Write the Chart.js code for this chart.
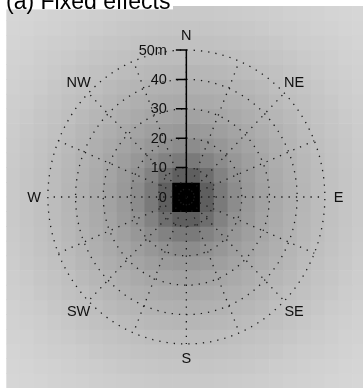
<!DOCTYPE html>
<html>
<head>
<meta charset="utf-8">
<script src="https://cdn.jsdelivr.net/npm/chart.js@4/dist/chart.umd.min.js"></script>
<style>
  html, body { margin: 0; padding: 0; background: #fff; overflow: hidden; }
  #wrap { width: 370px; height: 392px; }
  canvas { display: block; }
</style>
</head>
<body>
<div id="wrap"><canvas id="chart" width="370" height="392"></canvas></div>
<script>
// Cell centres (m) of the 5 m raster, west→east and north→south
const colCentres = [-62.5, -57.5, -52.5, -47.5, -42.5, -37.5, -32.5, -27.5, -22.5, -17.5, -12.5, -7.5, -2.5,
                    2.5, 7.5, 12.5, 17.5, 22.5, 27.5, 32.5, 37.5, 42.5, 47.5, 52.5, 57.5, 62.5];
const rowCentres = [62.5, 57.5, 52.5, 47.5, 42.5, 37.5, 32.5, 27.5, 22.5, 17.5, 12.5, 7.5, 2.5,
                    -2.5, -7.5, -12.5, -17.5, -22.5, -27.5, -32.5, -37.5, -42.5, -47.5, -52.5, -57.5, -62.5];
const cellSize = 5;

// Fixed-effect strength per cell (0 = none, 255 = full), rows north→south
const effect = [
  [41,42,43,45,46,47,49,50,51,52,53,54,54,54,54,53,52,51,50,49,47,46,45,43,42,41],
  [42,43,45,46,48,50,51,53,55,56,57,58,58,58,58,57,56,55,53,51,50,48,46,45,43,42],
  [43,45,47,49,50,52,55,57,58,60,61,62,62,62,62,61,60,58,57,55,52,50,49,47,45,43],
  [45,46,49,51,53,56,58,60,62,64,66,67,67,67,67,66,64,62,60,58,56,53,51,49,46,45],
  [46,48,50,53,56,59,62,64,67,69,71,72,73,73,72,71,69,67,64,62,59,56,53,50,48,46],
  [47,50,52,56,59,62,65,69,72,74,77,78,79,79,78,77,74,72,69,65,62,59,56,52,50,47],
  [49,51,55,58,62,65,69,73,77,80,82,84,85,85,84,82,80,77,73,69,65,62,58,55,51,49],
  [50,53,57,60,64,69,73,77,81,85,89,91,93,93,91,89,85,81,77,73,69,64,60,57,53,50],
  [51,55,58,62,67,72,77,81,86,91,96,100,102,102,100,96,91,86,81,77,72,67,62,58,55,51],
  [52,56,60,64,69,74,80,85,91,97,104,110,115,115,110,104,97,91,85,80,74,69,64,60,56,52],
  [53,57,61,66,71,77,82,89,96,104,115,125,133,133,125,115,104,96,89,82,77,71,66,61,57,53],
  [54,58,62,67,72,78,84,91,100,110,125,145,160,160,145,125,110,100,91,84,78,72,67,62,58,54],
  [54,58,62,67,73,79,85,93,102,115,133,160,255,255,160,133,115,102,93,85,79,73,67,62,58,54],
  [54,58,62,67,73,79,85,93,102,115,133,160,255,255,160,133,115,102,93,85,79,73,67,62,58,54],
  [54,58,62,67,72,78,84,91,100,110,125,145,160,160,145,125,110,100,91,84,78,72,67,62,58,54],
  [53,57,61,66,71,77,82,89,96,104,115,125,133,133,125,115,104,96,89,82,77,71,66,61,57,53],
  [52,56,60,64,69,74,80,85,91,97,104,110,115,115,110,104,97,91,85,80,74,69,64,60,56,52],
  [51,55,58,62,67,72,77,81,86,91,96,100,102,102,100,96,91,86,81,77,72,67,62,58,55,51],
  [50,53,57,60,64,69,73,77,81,85,89,91,93,93,91,89,85,81,77,73,69,64,60,57,53,50],
  [49,51,55,58,62,65,69,73,77,80,82,84,85,85,84,82,80,77,73,69,65,62,58,55,51,49],
  [47,50,52,56,59,62,65,69,72,74,77,78,79,79,78,77,74,72,69,65,62,59,56,52,50,47],
  [46,48,50,53,56,59,62,64,67,69,71,72,73,73,72,71,69,67,64,62,59,56,53,50,48,46],
  [45,46,49,51,53,56,58,60,62,64,66,67,67,67,67,66,64,62,60,58,56,53,51,49,46,45],
  [43,45,47,49,50,52,55,57,58,60,61,62,62,62,62,61,60,58,57,55,52,50,49,47,45,43],
  [42,43,45,46,48,50,51,53,55,56,57,58,58,58,58,57,56,55,53,51,50,48,46,45,43,42],
  [41,42,43,45,46,47,49,50,51,52,53,54,54,54,54,53,52,51,50,49,47,46,45,43,42,41]
];

// Polar reference grid
const ringRadii = [10, 20, 30, 40, 50];
const spokeBearings = [0, 22.5, 45, 67.5, 90, 112.5, 135, 157.5, 180, 202.5, 225, 247.5, 270, 292.5, 315, 337.5];
const spokeLength = 50;

// Distance axis along north, and compass labels
const axisTicks = [0, 10, 20, 30, 40, 50];
const axisTickLabels = ['0', '10', '20', '30', '40', '50m'];
const compassLabels = ['N', 'NE', 'E', 'SE', 'S', 'SW', 'W', 'NW'];
const compassBearings = [0, 45, 90, 135, 180, 225, 270, 315];
const compassRadius = 55;

const titleText = '(a) Fixed effects';

const FONT = "'Liberation Sans', Arial, Helvetica, sans-serif";
const rad = d => d * Math.PI / 180;
const shade = e => { const g = 255 - e; return `rgb(${g},${g},${g})`; };

const cellSets = rowCentres.map((yc, i) => ({
  type: 'bar',
  data: colCentres.map(() => [yc - cellSize / 2, yc + cellSize / 2]),
  backgroundColor: effect[i].map(shade),
  borderWidth: 0,
  grouped: false,
  categoryPercentage: 1,
  barPercentage: 1,
  xAxisID: 'x',
  yAxisID: 'y',
  order: 2
}));

const dotted = {
  type: 'line',
  xAxisID: 'xr',
  yAxisID: 'y',
  borderColor: '#1a1a1a',
  borderWidth: 1.3,
  borderDash: [1.3, 6],
  borderCapStyle: 'butt',
  pointRadius: 0,
  fill: false,
  tension: 0,
  order: 1
};

const ringSets = ringRadii.map(r => {
  const pts = [];
  for (let a = 0; a <= 360; a += 2) pts.push({ x: r * Math.sin(rad(a)), y: r * Math.cos(rad(a)) });
  return Object.assign({}, dotted, { data: pts });
});

const spokeSets = spokeBearings.map(b => Object.assign({}, dotted, {
  data: [{ x: 0, y: 0 }, { x: spokeLength * Math.sin(rad(b)), y: spokeLength * Math.cos(rad(b)) }]
}));

// North distance axis, compass labels and panel title
const overlay = {
  id: 'overlay',
  afterDatasetsDraw(chart) {
    const ctx = chart.ctx;
    const xs = chart.scales.xr, ys = chart.scales.y;
    const x0 = xs.getPixelForValue(0);
    ctx.save();
    ctx.strokeStyle = '#000';
    ctx.lineWidth = 1.5;
    ctx.beginPath();
    ctx.moveTo(x0, ys.getPixelForValue(axisTicks[0]));
    ctx.lineTo(x0, ys.getPixelForValue(axisTicks[axisTicks.length - 1]));
    axisTicks.forEach(v => {
      const y = ys.getPixelForValue(v);
      ctx.moveTo(x0 - 10.5, y);
      ctx.lineTo(x0 + 0.75, y);
    });
    ctx.stroke();

    ctx.fillStyle = '#111';
    ctx.font = `14.5px ${FONT}`;
    ctx.textBaseline = 'middle';
    ctx.textAlign = 'right';
    axisTicks.forEach((v, i) => {
      ctx.fillText(axisTickLabels[i], x0 - 19.5, ys.getPixelForValue(v) + 0.5);
    });

    ctx.textAlign = 'center';
    compassLabels.forEach((t, i) => {
      const b = rad(compassBearings[i]);
      ctx.fillText(t, xs.getPixelForValue(compassRadius * Math.sin(b)),
                      ys.getPixelForValue(compassRadius * Math.cos(b)) + 0.5);
    });
    ctx.restore();
  },
  afterDraw(chart) {
    const ctx = chart.ctx;
    ctx.save();
    // panel label sits on its own white strip
    ctx.fillStyle = '#fff';
    ctx.fillRect(0, 0, 173, 9.4);
    ctx.fillStyle = '#000';
    ctx.font = `23px ${FONT}`;
    ctx.textBaseline = 'alphabetic';
    ctx.textAlign = 'left';
    ctx.fillText(titleText, 6, 9);
    ctx.restore();
  }
};

new Chart(document.getElementById('chart'), {
  type: 'bar',
  data: {
    labels: colCentres.map(String),
    datasets: [...ringSets, ...spokeSets, ...cellSets]
  },
  options: {
    responsive: false,
    devicePixelRatio: 1,
    animation: false,
    events: [],
    layout: { padding: { left: 6.3, right: 3.6, top: 5.9, bottom: 3.9 } },
    plugins: { legend: { display: false }, tooltip: { enabled: false }, title: { display: false } },
    scales: {
      x: { type: 'category', display: false, offset: true, grid: { display: false } },
      xr: { type: 'linear', display: false, offset: false, min: -65, max: 65 },
      y: { type: 'linear', display: false, offset: false, min: -65, max: 65 }
    }
  },
  plugins: [overlay]
});
</script>
</body>
</html>
